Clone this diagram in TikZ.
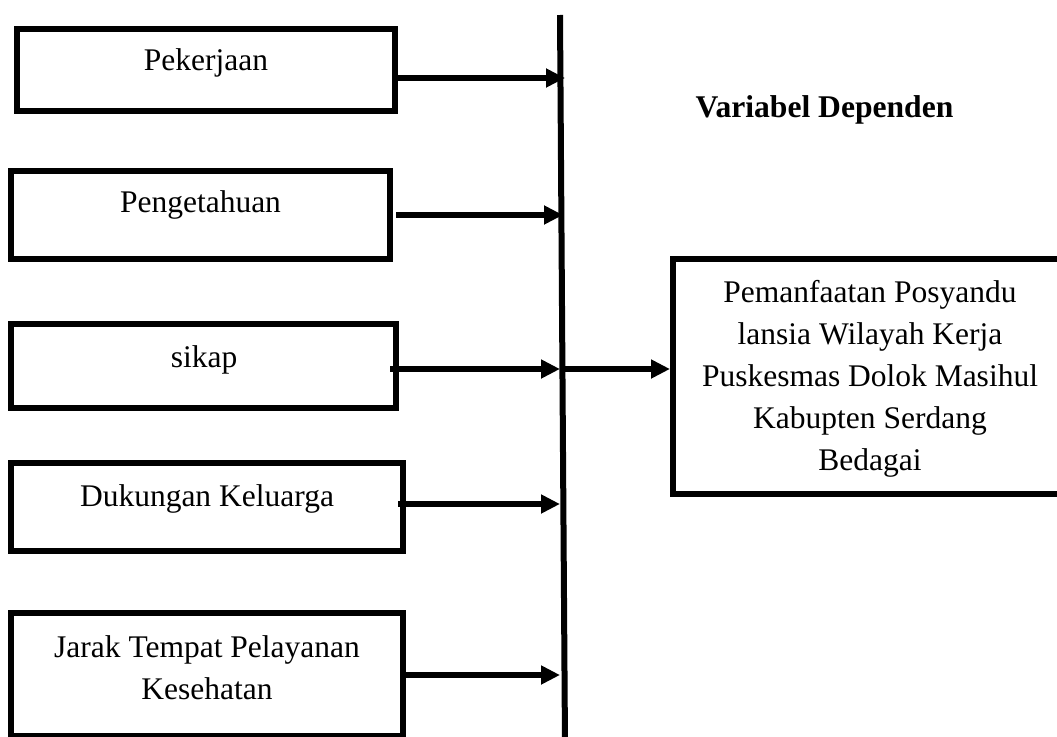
\documentclass[tikz,border=0pt]{standalone}
\usepackage{fontspec}
\setmainfont{Liberation Serif}
\usetikzlibrary{arrows.meta}
\begin{document}
\begin{tikzpicture}[x=1pt,y=-1pt,
  box/.style={draw, line width=6pt, inner sep=0pt},
  lbl/.style={anchor=base, inner sep=0pt, font=\fontsize{31.5}{42}\selectfont},
  arr/.style={line width=6.5pt, -{Triangle[length=19pt,width=18pt]}},
  vline/.style={line width=6pt}
]
\useasboundingbox (0,0) rectangle (1057,736);
\clip (0,0) rectangle (1057,736);

% left boxes
\node[box, minimum width=378pt, minimum height=82pt] (b1) at (206,70) {};
\node[box, minimum width=379pt, minimum height=88pt] (b2) at (200.5,215) {};
\node[box, minimum width=385pt, minimum height=84pt] (b3) at (203.5,366) {};
\node[box, minimum width=392pt, minimum height=88pt] (b4) at (207,507) {};
\node[box, minimum width=392pt, minimum height=123pt] (b5) at (207,674.5) {};

% labels
\node[lbl] (t1) at (206,70) {Pekerjaan};
\node[lbl] (t2) at (200.5,212) {Pengetahuan};
\node[lbl] (t3) at (204,367) {sikap};
\node[lbl] (t4) at (207,506) {Dukungan Keluarga};
\node[lbl] (t5) at (207,657) {\begin{tabular}[t]{@{}c@{}}Jarak Tempat Pelayanan\\Kesehatan\end{tabular}};

% dependent box
\node[box, minimum width=395pt, minimum height=235pt] (rb) at (870.5,376.5) {};
\node[lbl] (rt) at (870,302) {\begin{tabular}[t]{@{}c@{}}Pemanfaatan Posyandu\\lansia Wilayah Kerja\\Puskesmas Dolok Masihul\\Kabupten Serdang\\Bedagai\end{tabular}};
\node[lbl, font=\fontsize{31.6}{42}\selectfont\bfseries] (title) at (824.5,117) {Variabel Dependen};

% vertical collector line
\coordinate (vtop) at (560,15);
\coordinate (vbot) at (565,745);
\draw[vline] (vtop) -- (vbot);

% arrow end points on the line
\coordinate (e1) at (565,78);
\coordinate (e2) at (563,215);
\coordinate (e3) at (560,369);
\coordinate (e4) at (560,504);
\coordinate (e5) at (560,675);

\draw[arr] (b1.east |- e1) -- (e1);
\draw[arr] ([xshift=3pt]b2.east |- e2) -- (e2);
\draw[arr] ([xshift=-9pt]b3.east |- e3) -- (e3);
\draw[arr] ([xshift=-8pt]b4.east |- e4) -- (e4);
\draw[arr] (b5.east |- e5) -- (e5);

% main arrow
\draw[arr] (e3) -- (rb.west |- e3);
\end{tikzpicture}
\end{document}
